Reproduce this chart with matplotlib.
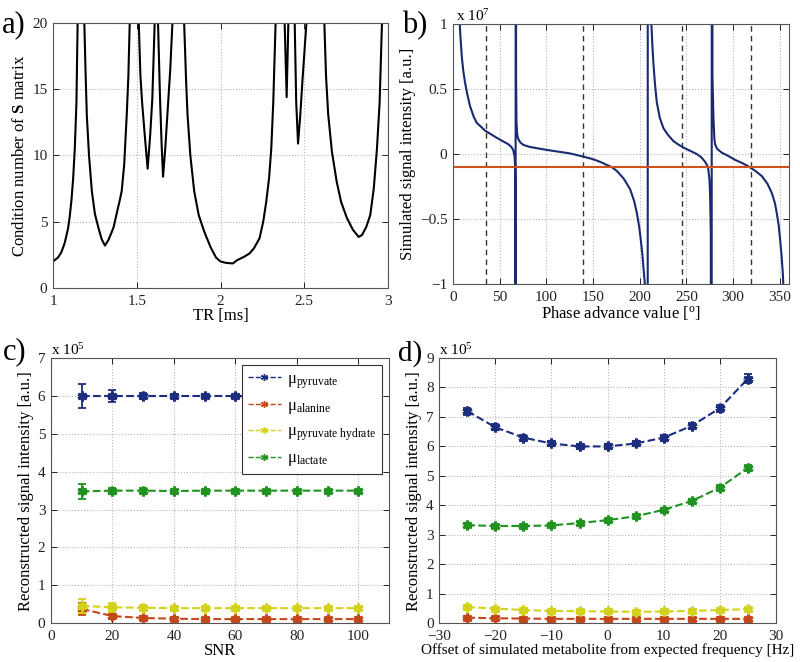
import matplotlib
matplotlib.use("Agg")
import matplotlib.pyplot as plt
import numpy as np

plt.rcParams['font.family'] = ['Liberation Serif', 'DejaVu Serif']
plt.rcParams['mathtext.fontset'] = 'custom'
plt.rcParams['mathtext.rm'] = 'Liberation Serif'
plt.rcParams['mathtext.it'] = 'Liberation Serif:italic'
plt.rcParams['mathtext.bf'] = 'Liberation Serif:bold'
plt.rcParams['axes.unicode_minus'] = True

# ---------------- Panel a data: condition number vs TR ----------------
tr_ms = [1.00, 1.03, 1.05, 1.07, 1.09, 1.10, 1.11, 1.12, 1.13, 1.14, 1.147, 1.167,
         1.187, 1.195, 1.202, 1.215, 1.232, 1.25, 1.272, 1.29, 1.31, 1.33, 1.35, 1.362,
         1.38, 1.40, 1.41, 1.425, 1.44, 1.45, 1.458, 1.485,
         1.512, 1.522, 1.532, 1.548, 1.565, 1.58, 1.593, 1.607, 1.617,
         1.627, 1.639, 1.648, 1.657, 1.67, 1.683, 1.70, 1.713, 1.745,
         1.783, 1.795, 1.803, 1.82, 1.843, 1.87, 1.903, 1.94, 1.973, 2.00, 2.03,
         2.073, 2.10, 2.14, 2.173, 2.20, 2.233, 2.255, 2.273, 2.29, 2.303, 2.315,
         2.329, 2.356, 2.383, 2.395, 2.405, 2.42, 2.443, 2.452, 2.463, 2.476, 2.489,
         2.513, 2.56, 2.62, 2.63, 2.643, 2.665, 2.694, 2.72, 2.754, 2.79, 2.825,
         2.845, 2.87, 2.894, 2.915, 2.934, 2.95, 2.964, 2.99, 3.0]
cond_num = [2.0, 2.3, 2.7, 3.4, 4.5, 5.4, 6.6, 8.2, 10.5, 14.0, 20, 40,
            20, 16, 13, 10, 7.3, 5.6, 4.5, 3.7, 3.2, 3.6, 4.2, 4.6,
            5.6, 6.7, 7.3, 9.3, 13.0, 16, 20, 40,
            20, 16, 14.0, 11.5, 9.0, 11.5, 14.3, 20, 40,
            20, 14.3, 11, 8.4, 10.5, 13.1, 16.5, 20, 40,
            20, 15.5, 13.1, 10, 7.3, 5.5, 4.25, 3.1, 2.3, 2.0, 1.9,
            1.85, 2.1, 2.35, 2.6, 3.0, 3.75, 5.0, 6.5, 8.3, 10.5, 14,
            20, 40, 20, 14.4, 20, 40, 20, 14, 10.9, 13, 15.6,
            20, 40, 20, 16, 13.1, 10.3, 8.0, 6.5, 5.3, 4.4, 3.85,
            4.0, 4.6, 5.5, 7.5, 10.5, 14, 20, 40, 40]

# ---------------- Panel b data: simulated signal vs phase advance (x 1e7) ----------------
phase_deg = [5, 7, 8, 9.3, 11, 12.9, 15, 18.2, 22, 25.4, 30, 34.3, 40, 46.8, 53, 59.3,
             62.5, 64.6, 66, 66.5, 66.9, 67.0, 67.2, 67.6, 68.0, 68.5, 69, 70, 72, 75.4,
             82, 89.7, 100, 111, 125, 139.7, 150, 157.6, 165, 170, 175.5, 183, 189.7, 194,
             196.9, 199.5, 201.2, 203, 204, 205.8, 207, 208.5, 208.8, 211, 212.4, 213.5,
             214.7, 216.5, 218.3, 221.5, 225.4, 230, 236.1, 241, 246.8, 254, 261.2, 266,
             270.1, 272.5, 273.6, 274.8, 275.4, 276.2, 277.0, 277.4, 278, 279, 280, 280.8,
             283, 288, 295, 302.2, 310, 316.5, 324, 330.9, 337, 341.6, 345, 347, 349,
             350.5, 352, 353.4, 354.5, 356]
signal_b = [1.4, 1.03, 0.9, 0.76, 0.64, 0.55, 0.47, 0.37, 0.29, 0.24, 0.21, 0.18, 0.155,
            0.125, 0.10, 0.075, 0.055, 0.03, -0.02, -0.08, -0.3, -5, 5, 0.6, 0.25, 0.18,
            0.14, 0.115, 0.09, 0.07, 0.055, 0.045, 0.032, 0.02, 0.005, -0.02, -0.04, -0.06,
            -0.085, -0.1, -0.13, -0.19, -0.27, -0.36, -0.45, -0.56, -0.66, -0.78, -0.87,
            -1.02, -1.5, -10, 10, 1.4, 1.03, 0.85, 0.70, 0.53, 0.40, 0.28, 0.20, 0.15,
            0.10, 0.075, 0.05, 0.025, 0.0, -0.025, -0.06, -0.09, -0.12, -0.2, -0.3, -0.6,
            -5, 5, 0.6, 0.29, 0.12, 0.075, 0.04, 0.01, -0.015, -0.045, -0.07, -0.095,
            -0.13, -0.17, -0.23, -0.30, -0.38, -0.46, -0.55, -0.66, -0.78, -0.92, -1.1, -1.5]
measured_level = -0.1
dashed_phases = [35, 139, 245, 319]

# ---------------- Panel c data: reconstructed signal vs SNR (x 1e5) ----------------
snr = [10, 20, 30, 40, 50, 60, 70, 80, 90, 100]
pyr_c = [6.0, 6.0, 6.0, 6.0, 6.0, 6.0, 6.0, 6.0, 6.0, 6.0]
pyr_c_err = [0.32, 0.15, 0.08, 0.06, 0.04, 0.03, 0.03, 0.02, 0.02, 0.02]
ala_c = [0.38, 0.19, 0.14, 0.12, 0.11, 0.11, 0.11, 0.11, 0.11, 0.11]
ala_c_err = [0.15, 0.08, 0.05, 0.04, 0.03, 0.02, 0.02, 0.02, 0.02, 0.02]
hyd_c = [0.46, 0.42, 0.41, 0.40, 0.40, 0.40, 0.40, 0.40, 0.40, 0.40]
hyd_c_err = [0.18, 0.11, 0.06, 0.04, 0.03, 0.03, 0.02, 0.02, 0.02, 0.02]
lac_c = [3.48, 3.50, 3.50, 3.49, 3.50, 3.50, 3.50, 3.50, 3.50, 3.50]
lac_c_err = [0.20, 0.08, 0.06, 0.04, 0.03, 0.03, 0.02, 0.02, 0.02, 0.02]

# ---------------- Panel d data: reconstructed signal vs frequency offset (x 1e5) ----------------
offset_hz = [-25, -20, -15, -10, -5, 0, 5, 10, 15, 20, 25]
pyr_d = [7.2, 6.65, 6.3, 6.1, 6.0, 6.0, 6.1, 6.3, 6.7, 7.3, 8.3]
pyr_d_err = [0.12, 0.1, 0.08, 0.08, 0.08, 0.08, 0.08, 0.1, 0.1, 0.12, 0.15]
ala_d = [0.19, 0.17, 0.16, 0.15, 0.15, 0.15, 0.15, 0.15, 0.15, 0.15, 0.15]
ala_d_err = [0.04, 0.03, 0.03, 0.03, 0.03, 0.03, 0.03, 0.03, 0.03, 0.03, 0.03]
hyd_d = [0.55, 0.50, 0.45, 0.42, 0.41, 0.40, 0.39, 0.40, 0.42, 0.45, 0.48]
hyd_d_err = [0.04, 0.03, 0.03, 0.03, 0.03, 0.03, 0.03, 0.03, 0.03, 0.03, 0.04]
lac_d = [3.33, 3.30, 3.30, 3.32, 3.40, 3.50, 3.63, 3.85, 4.15, 4.60, 5.28]
lac_d_err = [0.06, 0.05, 0.05, 0.05, 0.05, 0.05, 0.05, 0.06, 0.06, 0.08, 0.1]

metabolite_labels = ['μ$_{\\mathrm{pyruvate}}$', 'μ$_{\\mathrm{alanine}}$',
                     'μ$_{\\mathrm{pyruvate\\ hydrate}}$', 'μ$_{\\mathrm{lactate}}$']

BLUE = '#1b2d7c'
RED = '#c4461b'
YEL = '#d2d21c'
GRN = '#1f921f'
NAVY = '#1a2a72'
ORANGE = '#d2521e'

FS = 11      # tick labels
LFS = 12     # axis labels

fig = plt.figure(figsize=(8.0, 6.62), dpi=100)

def style(ax):
    ax.tick_params(direction='in', top=True, right=True, labelsize=FS, length=4,
                   width=0.7, colors='#222222')
    ax.tick_params(axis='x', pad=5)
    ax.tick_params(axis='y', pad=4)
    ax.grid(True, linestyle=':', color='#b8b8b8', linewidth=0.8)
    ax.set_axisbelow(True)
    for s in ax.spines.values():
        s.set_linewidth(0.8)
        s.set_color('#555555')

ast = (6, 2, 0)

# ---- Panel a ----
axa = fig.add_axes([0.06625, 0.565, 0.41875, 0.4003])
axa.plot(tr_ms, cond_num, color='black', lw=1.5)
axa.set_xlim(1, 3)
axa.set_ylim(0, 20)
axa.set_xticks([1, 1.5, 2, 2.5, 3])
axa.set_xticklabels(['1', '1.5', '2', '2.5', '3'])
axa.set_yticks([0, 5, 10, 15, 20])
axa.set_xlabel('TR [ms]', fontsize=LFS, labelpad=0)
axa.set_ylabel('Condition number of $\\mathbf{S}$ matrix', fontsize=LFS, labelpad=3)
style(axa)

# ---- Panel b ----
axb = fig.add_axes([0.56625, 0.571, 0.42, 0.3927])
for p in dashed_phases:
    axb.axvline(p, color='#333333', lw=1.0, ls=(0, (4, 3)))
axb.plot(phase_deg, signal_b, color=NAVY, lw=1.5)
axb.axhline(measured_level, color=ORANGE, lw=1.5)
axb.set_xlim(0, 360)
axb.set_ylim(-1, 1)
axb.set_xticks(np.arange(0, 351, 50))
axb.set_yticks([-1, -0.5, 0, 0.5, 1])
axb.set_yticklabels(['\u22121', '\u22120.5', '0', '0.5', '1'])
axb.set_xlabel('Phase advance value [$^{\\mathrm{o}}$]', fontsize=LFS, labelpad=0)
axb.set_ylabel('Simulated signal intensity [a.u.]', fontsize=LFS, labelpad=3)
axb.text(0.01, 1.0, 'x 10$^{7}$', transform=axb.transAxes, fontsize=FS,
         va='bottom', ha='left')
style(axb)

# ---- Panel c ----
axc = fig.add_axes([0.06375, 0.0585, 0.4225, 0.4007])
series_c = [(pyr_c, pyr_c_err, BLUE), (ala_c, ala_c_err, RED),
            (hyd_c, hyd_c_err, YEL), (lac_c, lac_c_err, GRN)]
handles = []
for (vals, errs, col), lab in zip(series_c, metabolite_labels):
    axc.errorbar(snr, vals, yerr=errs, color=col, ls='none', elinewidth=1.3,
                 capsize=3, capthick=1.3)
    h, = axc.plot(snr, vals, color=col, ls='--', lw=1.5, marker=ast, ms=7, mew=2.2,
                  label=lab)
    handles.append(h)
axc.set_xlim(0, 110)
axc.set_ylim(0, 7)
axc.set_xticks(np.arange(0, 101, 20))
axc.set_yticks(np.arange(0, 8, 1))
axc.set_xlabel('SNR', fontsize=LFS, labelpad=0)
axc.set_ylabel('Reconstructed signal intensity [a.u.]', fontsize=LFS, labelpad=3)
axc.text(0.0, 1.0, 'x 10$^{5}$', transform=axc.transAxes, fontsize=FS,
         va='bottom', ha='left')
style(axc)
leg = axc.legend(handles=handles, loc='upper right', bbox_to_anchor=(0.988, 0.985),
                 fontsize=12, frameon=True, fancybox=False, framealpha=1.0,
                 handlelength=2.0, labelspacing=0.45, borderpad=0.35,
                 handletextpad=0.35, borderaxespad=0.2)
leg.get_frame().set_edgecolor('#333333')
leg.get_frame().set_linewidth(0.8)
for lh in leg.get_lines():
    lh.set_markersize(5)
    lh.set_markeredgewidth(1.0)
    lh.set_linewidth(1.0)

# ---- Panel d ----
axd = fig.add_axes([0.549, 0.0585, 0.421, 0.4007])
series_d = [(pyr_d, pyr_d_err, BLUE), (ala_d, ala_d_err, RED),
            (hyd_d, hyd_d_err, YEL), (lac_d, lac_d_err, GRN)]
for vals, errs, col in series_d:
    axd.errorbar(offset_hz, vals, yerr=errs, color=col, ls='none', elinewidth=1.3,
                 capsize=3, capthick=1.3)
    axd.plot(offset_hz, vals, color=col, ls='--', lw=1.5, marker=ast, ms=7, mew=2.2)
axd.set_xlim(-30, 30)
axd.set_ylim(0, 9)
axd.set_xticks(np.arange(-30, 31, 10))
axd.set_yticks(np.arange(0, 10, 1))
axd.set_xlabel('Offset of simulated metabolite from expected frequency [Hz]',
               fontsize=11, labelpad=0)
axd.set_ylabel('Reconstructed signal intensity [a.u.]', fontsize=LFS, labelpad=3)
axd.text(0.0, 1.0, 'x 10$^{5}$', transform=axd.transAxes, fontsize=FS,
         va='bottom', ha='left')
style(axd)

# Panel labels
fig.text(0.002, 0.962, 'a)', fontsize=22, va='center', ha='left')
fig.text(0.503, 0.962, 'b)', fontsize=22, va='center', ha='left')
fig.text(0.004, 0.468, 'c)', fontsize=22, va='center', ha='left')
fig.text(0.498, 0.466, 'd)', fontsize=21, va='center', ha='left')

fig.savefig('out.png', dpi=100)
